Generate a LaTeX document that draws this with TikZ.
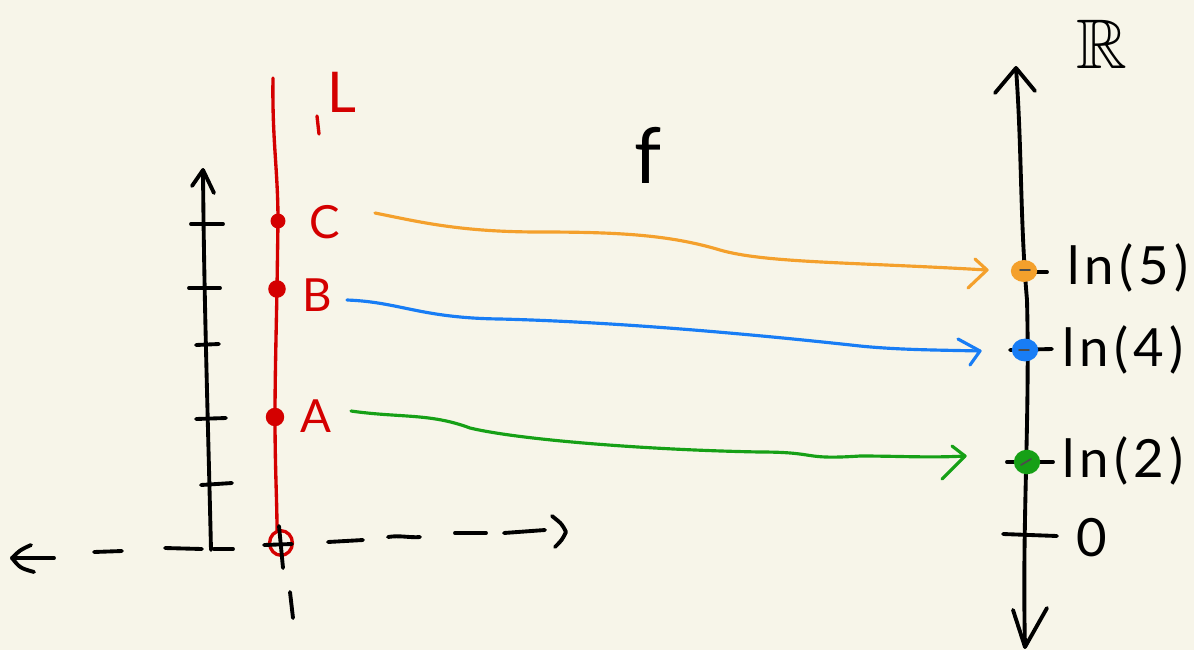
\documentclass[tikz,border=0pt]{standalone}
\usepackage{amssymb}
\usepackage{fontspec}
\usetikzlibrary{shapes.geometric}
\setmainfont{Lato}
\newfontfamily\hand[LetterSpace=10]{Lato}
\definecolor{bgc}{RGB}{247,245,233}
\definecolor{redc}{RGB}{212,0,0}
\definecolor{orc}{RGB}{244,160,44}
\definecolor{blc}{RGB}{24,125,245}
\definecolor{grc}{RGB}{22,160,22}
\begin{document}
\begin{tikzpicture}[x=0.02cm,y=-0.02cm,line cap=round,line join=round,
  blk/.style={line width=2.2pt,draw=black},
  redline/.style={line width=1.9pt,draw=redc},
  reddot/.style={circle,fill=redc,inner sep=0pt,minimum size=#1},
  colarrow/.style={line width=1.8pt,draw=#1},
  lbl/.style={inner sep=0pt,anchor=center},
  redlbl/.style={lbl,text=redc,font=\hand\fontsize{26}{29}\selectfont},
  lnlbl/.style={lbl,font=\hand\fontsize{30}{34}\selectfont}]
\fill[bgc] (0,0) rectangle (1194,650);
\useasboundingbox (0,0) rectangle (1194,650);

% ---------- left vertical axis ----------
\coordinate (lb) at (211,550);
\coordinate (lt) at (203,170);
\draw[blk] (lb) .. controls (208,420) and (204,300) .. (lt);
\draw[blk] (192,186) -- (lt) -- (214,193);
\draw[blk] (191,224) -- (223,224);
\draw[blk] (189,288) -- (220,288);
\draw[blk] (196,345) -- (219,344);
\draw[blk] (196,419) -- (226,418);
\draw[blk] (201,485) -- (232,483);

% ---------- dashed horizontal axis ----------
\coordinate (xl) at (12,558);
\coordinate (xr) at (566,532);
\draw[blk] (31,545) .. controls (20,550) .. (xl) .. controls (20,568) .. (34,572);
\draw[blk] (xl) -- (54,558);
\draw[blk] (94,552) -- (122,551);
\draw[blk] (165,548) -- (202,549);
\draw[blk] (214,549) -- (233,549);
\draw[blk] (328,542) -- (363,540);
\draw[blk] (388,537) .. controls (400,535) and (410,538) .. (420,537);
\draw[blk] (455,533) -- (486,533);
\draw[blk] (504,533) -- (545,530);
\draw[blk] (552,516) .. controls (562,524) .. (xr) .. controls (562,540) .. (555,547);

% ---------- red line L ----------
\node[reddot=8.5pt] (dC) at (278,221) {};
\node[reddot=10pt] (dB) at (277,289) {};
\node[reddot=10.5pt] (dA) at (275,417) {};
\coordinate (Ltop) at (273,78);
\coordinate (Lbot) at (277,530);
\draw[redline] (Ltop) .. controls (272,140) and (278,170) .. (dC.center) -- (dB.center)
  .. controls (276,340) and (275,380) .. (dA.center)
  .. controls (275,470) and (277,500) .. (Lbot);
\node[redline,ellipse,minimum width=13pt,minimum height=14pt,inner sep=0pt] (one) at (281,543) {};
\draw[blk] (264,545) -- (292,544);
\draw[blk] (279,526) -- (283,568);
\draw[blk] (290,592) -- (293,618);

\draw[redline] (317,116) -- (319,134);
\node[redlbl,font=\hand\fontsize{32}{36}\selectfont] (L) at (342,92) {L};
\node[redlbl] (C) at (325,222) {C};
\node[redlbl] (B) at (317,295) {B};
\node[redlbl] (A) at (316,416) {A};

% ---------- f ----------
\node[lbl,font=\fontsize{44}{48}\selectfont] (f) at (648,155) {f};

% ---------- right axis R ----------
\coordinate (rt) at (1016,68);
\coordinate (rb) at (1025,647);
\draw[blk] (rt) .. controls (1022,150) and (1020,220) .. (1027,300)
  .. controls (1030,420) and (1022,520) .. (rb);
\draw[blk] (995,93) -- (rt) -- (1035,91);
\draw[blk] (1013,610) -- (rb) -- (1047,608);
\draw[blk] (1024,272) -- (1047,272);
\draw[blk] (1010,350) -- (1052,349);
\draw[blk] (1007,462) -- (1053,462);
\draw[blk] (1003,534) -- (1057,536);

\node[ellipse,fill=orc,minimum width=15pt,minimum height=12.5pt,inner sep=0pt] (p5) at (1024,271) {};
\node[ellipse,fill=blc,minimum width=15pt,minimum height=13pt,inner sep=0pt] (p4) at (1025,350) {};
\node[ellipse,fill=grc,minimum width=15pt,minimum height=14pt,inner sep=0pt] (p2) at (1027,462) {};
\draw[line width=1pt,black!70] (1020,270) -- (1030,270);
\draw[line width=1pt,black!70] (1019,350) -- (1029,350);
\draw[line width=1pt,black!70] (1021,465) -- (1031,459);

\node[lnlbl] (l5) at (1128,268) {ln(5)};
\node[lnlbl] (l4) at (1123,350) {ln(4)};
\node[lnlbl] (l2) at (1123,461) {ln(2)};
\node[lnlbl] (z) at (1092,538) {0};
\node[inner sep=0pt,anchor=base,font=\fontsize{40}{44}\selectfont] (RR) at (1102,68) {$\mathbb{R}$};

% ---------- mapping arrows ----------
\coordinate (os) at (375,213);
\coordinate (oe) at (987,270);
\draw[colarrow=orc] (os) .. controls (420,222) and (460,232) .. (540,232)
  .. controls (620,232) and (670,235) .. (720,250)
  .. controls (765,263) and (850,262) .. (oe);
\draw[colarrow=orc] (975,259) -- (oe) -- (968,288);

\coordinate (bs) at (347,300);
\coordinate (be) at (980,351);
\draw[colarrow=blc] (bs) .. controls (400,302) and (420,318) .. (500,319)
  .. controls (620,322) and (760,335) .. (860,346)
  .. controls (900,350) and (940,350) .. (be);
\draw[colarrow=blc] (958,339) -- (be) -- (970,365);

\coordinate (gs) at (351,411);
\coordinate (ge) at (965,456);
\draw[colarrow=grc] (gs) .. controls (400,418) and (430,413) .. (470,428)
  .. controls (520,440) and (650,450) .. (760,452)
  .. controls (820,452) and (800,460) .. (860,456)
  .. controls (900,456) and (930,458) .. (ge);
\draw[colarrow=grc] (952,446) -- (ge) -- (942,479);
\end{tikzpicture}
\end{document}
